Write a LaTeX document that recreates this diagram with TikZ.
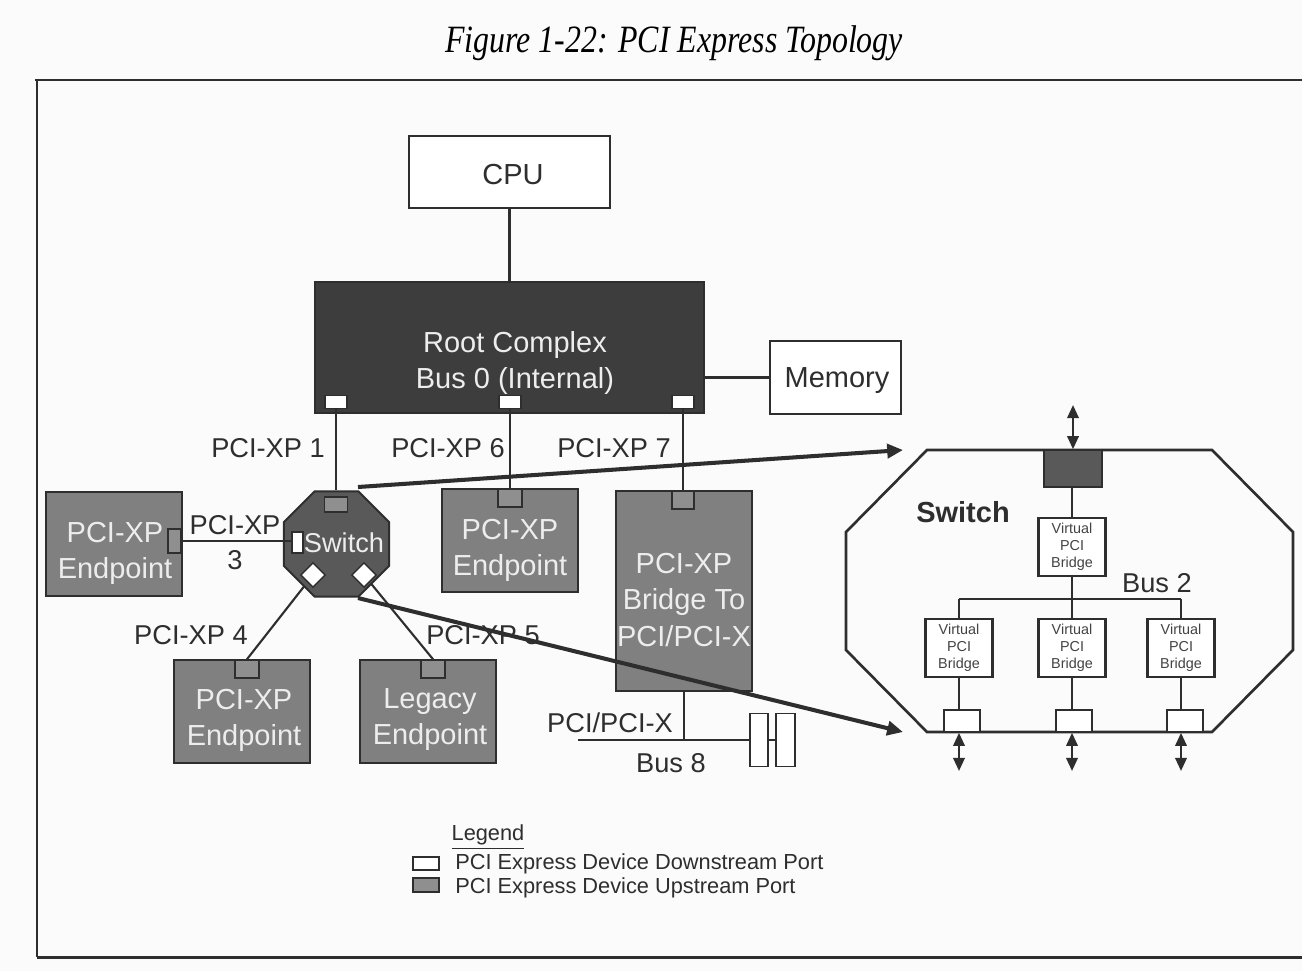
\documentclass[tikz,border=0pt]{standalone}
\usepackage{graphicx}
\usepackage{fontspec}
\setmainfont{Liberation Sans}
\newfontfamily\titlefont{Liberation Serif}
\usetikzlibrary{shapes.geometric,arrows.meta,fit,backgrounds}
\newdimen\pxu \pxu=0.02cm
\definecolor{ink}{gray}{0.18}
\definecolor{boxgray}{gray}{0.50}
\definecolor{portgray}{gray}{0.56}
\definecolor{rcfill}{gray}{0.24}
\definecolor{swfill}{gray}{0.35}
\definecolor{paper}{gray}{0.985}
\definecolor{wtxt}{gray}{0.93}
\tikzset{
 link/.style={draw=ink, line width=1.2pt},
 callout/.style={draw=ink, line width=2.3pt, -{Triangle[length=9pt,width=8pt]}},
 dbl/.style={draw=ink, line width=1.4pt, {Triangle[length=7.5pt,width=6.5pt]}-{Triangle[length=7.5pt,width=6.5pt]}},
 gbox/.style={draw=ink, line width=1.1pt, fill=boxgray, inner sep=0pt},
 wbox/.style={draw=ink, line width=1.1pt, fill=white, inner sep=0pt, font=\fontsize{16.5}{20.5}\selectfont, text=ink},
 rcbox/.style={draw=ink, line width=1.1pt, fill=rcfill, inner sep=0pt},
 intxt/.style={font=\fontsize{16.5}{20.5}\selectfont, text=wtxt, align=center, inner sep=0pt},
 lbl/.style={font=\fontsize{15.5}{20}\selectfont, text=ink, align=center, inner sep=0pt},
 port/.style 2 args={draw=ink, line width=0.9pt, inner sep=0pt, minimum width=#1\pxu, minimum height=#2\pxu},
 dport/.style 2 args={port={#1}{#2}, fill=white},
 uport/.style 2 args={port={#1}{#2}, fill=portgray},
 vpb/.style={draw=ink, line width=1.3pt, fill=white, inner sep=0pt, minimum width=67\pxu, minimum height=58\pxu, font=\fontsize{8.2}{9.8}\selectfont, text=ink!90, align=center},
 dia/.style={diamond, draw=ink, line width=0.8pt, fill=white, inner sep=0pt, minimum width=25\pxu, minimum height=25\pxu},
}
\begin{document}
\begin{tikzpicture}[x=0.02cm,y=-0.02cm]
\useasboundingbox (0,0) rectangle (1302,971);
\begin{pgfonlayer}{background}
\fill[paper] (0,0) rectangle (1302,971);
\end{pgfonlayer}

% frame
\draw[ink, line width=1.7pt] (35,80) -- (1302,80);
\draw[ink, line width=1pt] (37,80) -- (37,957);
\draw[ink, line width=1.7pt] (37,957) -- (1302,957);

% title
\node[inner sep=0pt, anchor=base] (title) at (674,52) {\scalebox{0.825}[1]{\titlefont\itshape\fontsize{22}{26}\selectfont Figure 1-22: PCI Express Topology}};

% CPU, root complex, memory
\node[wbox, fit={(409,136) (610,208)}] (cpu) {};
\node[font=\fontsize{16.5}{20.5}\selectfont, text=ink, inner sep=0pt] (cput) at (513,175) {CPU};
\node[rcbox, fit={(315,282) (704,413)}] (rc) {};
\node[intxt] (rct) at (515,363) {Root Complex\\Bus 0 (Internal)};
\node[dport={22}{13}] (rp1) at (336,402) {};
\node[dport={22}{13}] (rp6) at (510,402) {};
\node[dport={22}{13}] (rp7) at (683,402) {};
\node[wbox, fit={(770,341) (901,414)}] (mem) {};
\node[font=\fontsize{16.5}{20.5}\selectfont, text=ink, inner sep=0pt] (memt) at (837,381) {Memory};

\draw[link] (cpu) -- (cpu |- rc.north);
\draw[link] (mem.west) -- (mem.west -| rc.east);

% small switch
\node[regular polygon, regular polygon sides=8, minimum size=114\pxu, inner sep=0pt, draw=ink, line width=1.1pt, fill=swfill] (sw) at (336.5,544) {};
\node[uport={23}{15}] (swup) at (336,504.5) {};
\node[dport={11}{21}] (swdn) at (297.5,542.5) {};
\node[dia] (d1) at (313,575) {};
\node[dia] (d2) at (364,575) {};
\node[font=\fontsize{15.5}{20}\selectfont, text=wtxt, inner sep=0pt] (swt) at (344,543) {Switch};

% endpoints
\node[gbox, fit={(46,492) (182,596)}] (ep3) {};
\node[intxt] (ep3t) at (115,553) {PCI-XP\\Endpoint};
\node[uport={13}{24}] (ep3up) at (174.5,541) {};

\node[gbox, fit={(174,660) (310,763)}] (ep4) {};
\node[intxt] (ep4t) at (244,720) {PCI-XP\\Endpoint};
\node[uport={24}{18}] (ep4up) at (247,669) {};

\node[gbox, fit={(360,660) (496,763)}] (leg) {};
\node[intxt] (legt) at (430,720) {Legacy\\Endpoint};
\node[uport={24}{18}] (legup) at (433,669) {};

\node[gbox, fit={(442,489) (578,592)}] (ep6) {};
\node[intxt] (ep6t) at (510,550) {PCI-XP\\Endpoint};
\node[uport={24}{18}] (ep6up) at (510,498) {};

\node[gbox, fit={(616,491) (752,691)}] (br) {};
\node[intxt] (brt) at (684,600) {PCI-XP\\Bridge To\\PCI/PCI-X};
\node[uport={22}{18}] (brup) at (683,500) {};

% links from root complex
\draw[link] (rp1.south) -- (rp1.south |- sw.north);
\draw[link] (rp6.south) -- (ep6up.north);
\draw[link] (rp7.south) -- (brup.north);
\draw[link] (ep3up.east) -- (ep3up.east -| swdn.west);
\begin{pgfonlayer}{background}
\draw[link] (ep4up.north) -- (d1.center);
\draw[link] (legup.north) -- (d2.center);
\end{pgfonlayer}

% link labels
\node[lbl] (l1) at (268,448) {PCI-XP 1};
\node[lbl] (l6) at (448,448) {PCI-XP 6};
\node[lbl] (l7) at (614,448) {PCI-XP 7};
\node[lbl] (l3) at (235,543) {PCI-XP\\3};
\node[lbl] (l4) at (191,635) {PCI-XP 4};
\node[lbl] (l5) at (483,635) {PCI-XP 5};

% bus 8
\node[draw=ink, line width=1.1pt, fill=white, inner sep=0pt, minimum width=18\pxu, minimum height=53\pxu] (s1) at (759,740) {};
\node[draw=ink, line width=1.1pt, fill=white, inner sep=0pt, minimum width=19\pxu, minimum height=53\pxu] (s2) at (785.5,740) {};
\coordinate (b8l) at (578,740);
\draw[link] (br.south) -- (br.south |- b8l);
\draw[link] (b8l) -- (s1.west);
\draw[link] (s1.east) -- (s2.west);
\node[lbl] (lb8a) at (610,723) {PCI/PCI-X};
\node[lbl] (lb8b) at (671,763) {Bus 8};

% big switch
\draw[ink, line width=1.5pt, fill=paper] (927,450) -- (1212,450) -- (1293,532) -- (1293,650) -- (1212,732) -- (927,732) -- (846,650) -- (846,532) -- cycle;
\node[font=\bfseries\fontsize{16.5}{20}\selectfont, text=ink, inner sep=0pt] (bst) at (963,512) {Switch};
\node[port={58}{37}, fill=swfill] (bsup) at (1073,468.5) {};
\coordinate (topa) at (1073,405);
\draw[dbl] (topa) -- (bsup.north);
\node[vpb] (vtop) at (1072,547) {Virtual\\PCI\\Bridge};
\draw[link] (vtop.north |- bsup.south) -- (vtop.north);
\coordinate (bus2l) at (959,599);
\coordinate (bus2r) at (1181,599);
\draw[link] (bus2l) -- (bus2r);
\draw[link] (vtop.south) -- (vtop.south |- bus2l);
\node[font=\fontsize{15.5}{20}\selectfont, text=ink, inner sep=0pt] (bus2t) at (1157,583) {Bus 2};
\node[vpb] (vb1) at (959,648) {Virtual\\PCI\\Bridge};
\node[vpb] (vb2) at (1072,648) {Virtual\\PCI\\Bridge};
\node[vpb] (vb3) at (1181,648) {Virtual\\PCI\\Bridge};
\draw[link] (vb1.north |- bus2l) -- (vb1.north);
\draw[link] (vb2.north |- bus2l) -- (vb2.north);
\draw[link] (vb3.north |- bus2l) -- (vb3.north);
\node[dport={36}{22}] (pb1) at (962,721) {};
\node[dport={36}{22}] (pb2) at (1074,721) {};
\node[dport={36}{22}] (pb3) at (1185,721) {};
\draw[link] (vb1.south) -- (vb1.south |- pb1.north);
\draw[link] (vb2.south) -- (vb2.south |- pb2.north);
\draw[link] (vb3.south) -- (vb3.south |- pb3.north);
\coordinate (bot1) at (959,771);
\coordinate (bot2) at (1072,771);
\coordinate (bot3) at (1181,771);
\draw[dbl] (bot1 |- pb1.south) -- (bot1);
\draw[dbl] (bot2 |- pb2.south) -- (bot2);
\draw[dbl] (bot3 |- pb3.south) -- (bot3);

% callout arrows
\coordinate (ca1) at (358,487);
\coordinate (ca2) at (358,598);
\coordinate (ta1) at (903,450);
\coordinate (ta2) at (903,732);
\draw[callout] (ca1) -- (ta1);
\draw[callout] (ca2) -- (ta2);

% legend
\node[font=\fontsize{12.4}{15}\selectfont, text=ink, inner sep=0pt] (legtitle) at (488,837) {\underline{Legend}};
\node[dport={26}{13}] (lgd) at (426,863.5) {};
\node[uport={26}{14}] (lgu) at (426,885) {};
\node[font=\fontsize{12.4}{15}\selectfont, text=ink, inner sep=0pt, anchor=west] (lgdt) at (455,864) {PCI Express Device Downstream Port};
\node[font=\fontsize{12.4}{15}\selectfont, text=ink, inner sep=0pt, anchor=west] (lgut) at (455,888) {PCI Express Device Upstream Port};
\end{tikzpicture}
\end{document}
